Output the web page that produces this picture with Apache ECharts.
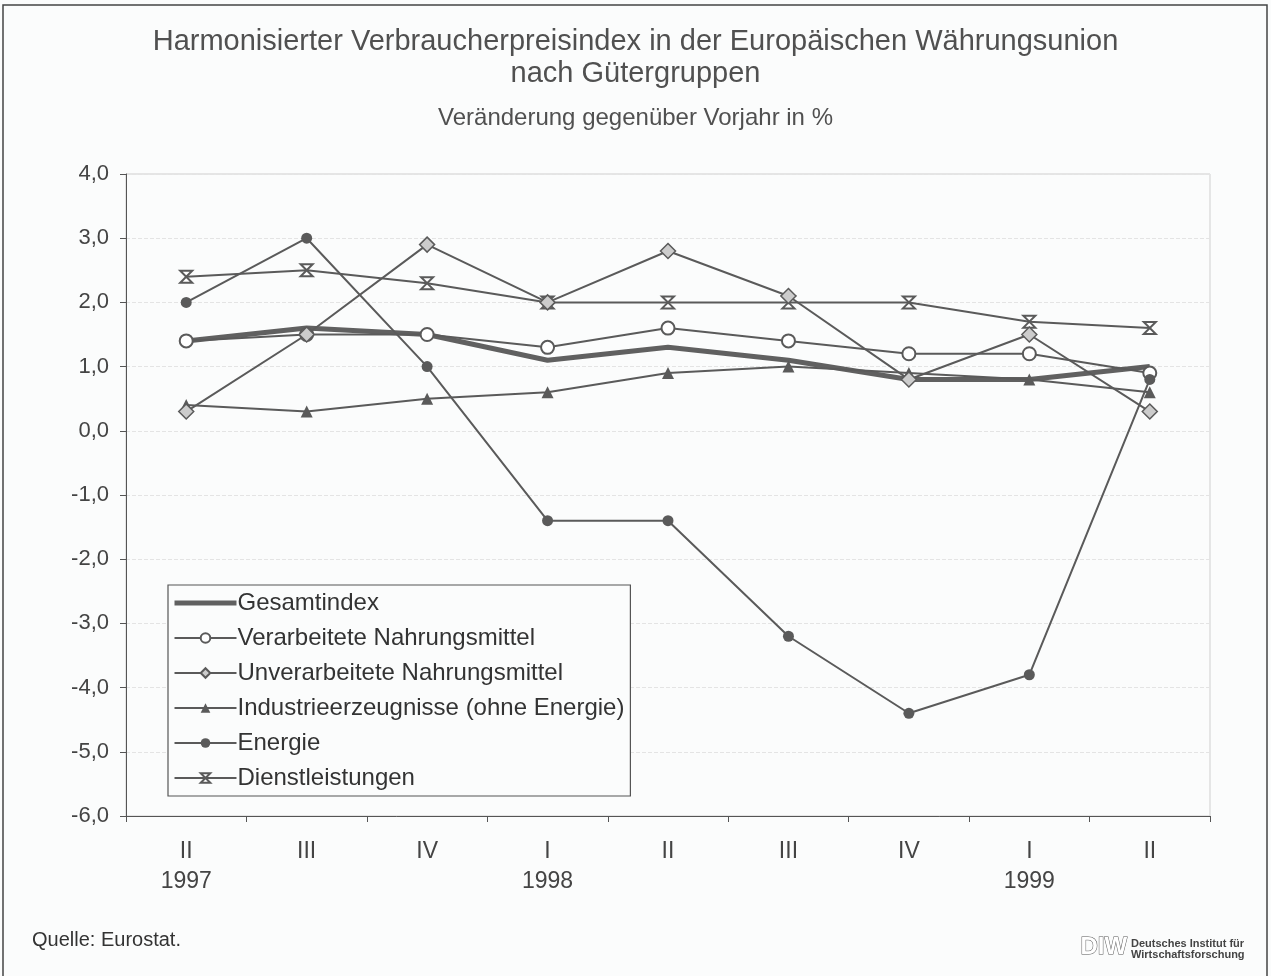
<!DOCTYPE html>
<html><head><meta charset="utf-8">
<script src="https://cdn.jsdelivr.net/npm/echarts@6/dist/echarts.min.js"></script>
<style>html,body{margin:0;padding:0;background:#fbfcfc}#c{width:1271px;height:976px}</style>
</head><body><div id="c"></div>
<script>
const categories = ['II\n1997','III','IV','I\n1998','II','III','IV','I\n1999','II'];
const gesamtindex = [1.4,1.6,1.5,1.1,1.3,1.1,0.8,0.8,1.0];
const verarbeitete = [1.4,1.5,1.5,1.3,1.6,1.4,1.2,1.2,0.9];
const unverarbeitete = [0.3,1.5,2.9,2.0,2.8,2.1,0.8,1.5,0.3];
const industrie = [0.4,0.3,0.5,0.6,0.9,1.0,0.9,0.8,0.6];
const energie = [2.0,3.0,1.0,-1.4,-1.4,-3.2,-4.4,-3.8,0.8];
const dienst = [2.4,2.5,2.3,2.0,2.0,2.0,2.0,1.7,1.6];
const seriesNames = ['Gesamtindex','Verarbeitete Nahrungsmittel','Unverarbeitete Nahrungsmittel','Industrieerzeugnisse (ohne Energie)','Energie','Dienstleistungen'];

const FONT = 'Liberation Sans, Arial, sans-serif';
const LC = '#5a5a5a';
const crossSym = 'path://M0,0L10,0L0,10L10,10Z';

const chart = echarts.init(document.getElementById('c'));
function mk(name, data, opts) {
  return Object.assign({
    name, type:'line', data, animation:false,
    lineStyle:{color:LC, width:2},
    itemStyle:{color:LC, borderColor:LC, borderWidth:1.5},
    symbolSize:10
  }, opts);
}
const legendData = seriesNames.map((n,i)=> i===0
  ? {name:n, lineStyle:{width:5, color:'#606060'}, itemStyle:{color:'transparent', borderColor:'transparent', opacity:0}}
  : {name:n});
chart.setOption({
  backgroundColor:'#fbfcfc',
  textStyle:{fontFamily:FONT},
  title:[
    {text:'Harmonisierter Verbraucherpreisindex in der Europäischen Währungsunion\nnach Gütergruppen', left:'center', top:21,
     textStyle:{fontFamily:FONT, fontSize:29, fontWeight:'normal', color:'#505050', lineHeight:32, align:'center'}},
    {text:'Veränderung gegenüber Vorjahr in %', left:'center', top:101,
     textStyle:{fontFamily:FONT, fontSize:24, fontWeight:'normal', color:'#505050'}},
    {text:'Quelle: Eurostat.', left:27, top:925, textStyle:{fontFamily:FONT, fontSize:20, fontWeight:'normal', color:'#333'}}
  ],
  grid:{left:126, right:61, top:174, bottom:160, show:true, borderColor:'#cfcfcf', borderWidth:1, backgroundColor:'transparent'},
  legend:{
    orient:'vertical', left:168, top:585, padding:[6,6,6,4],
    itemWidth:62, itemHeight:12, itemGap:11,
    borderColor:'#555', borderWidth:1.2, backgroundColor:'#fbfcfc',
    textStyle:{fontFamily:FONT, fontSize:24, color:'#333', padding:[0,0,0,-4]},
    data:legendData
  },
  xAxis:{
    type:'category', data:categories, boundaryGap:true,
    axisLine:{onZero:false, lineStyle:{color:'#555', width:1}},
    axisTick:{show:true, inside:false, length:6, lineStyle:{color:'#555'}},
    axisLabel:{fontFamily:FONT, fontSize:23, color:'#444', lineHeight:30, margin:21},
    splitLine:{show:false}
  },
  yAxis:{
    type:'value', min:-6, max:4, interval:1,
    axisLine:{show:true, lineStyle:{color:'#555', width:1}},
    axisTick:{show:true, length:6, lineStyle:{color:'#555'}},
    axisLabel:{fontFamily:FONT, fontSize:22, color:'#444', margin:17,
      formatter:v=>v.toFixed(1).replace('.',',')},
    splitLine:{show:true, lineStyle:{color:'#e4e4e4', type:'dashed', width:1}}
  },
  series:[
    mk(seriesNames[0], gesamtindex, {lineStyle:{color:'#606060', width:5}, symbol:'none', itemStyle:{color:'#606060'}, z:3}),
    mk(seriesNames[1], verarbeitete, {symbol:'circle', symbolSize:13, itemStyle:{color:'#ffffff', borderColor:LC, borderWidth:2}, z:4}),
    mk(seriesNames[2], unverarbeitete, {symbol:'diamond', symbolSize:[15,15], itemStyle:{color:'#cccccc', borderColor:LC, borderWidth:1.5}, z:5}),
    mk(seriesNames[3], industrie, {symbol:'triangle', symbolSize:12, itemStyle:{color:LC}, z:4}),
    mk(seriesNames[4], energie, {symbol:'circle', symbolSize:11, itemStyle:{color:LC}, z:4}),
    mk(seriesNames[5], dienst, {symbol:crossSym, symbolSize:12, itemStyle:{color:'#ffffff', borderColor:LC, borderWidth:2}, z:4})
  ],
  graphic:[
    {type:'rect', shape:{x:3, y:5, width:1264, height:1000}, style:{fill:'none', stroke:'#444', lineWidth:1.5}, silent:true},
    {type:'text', left:1080, top:935, style:{text:'DIW', font:'bold 24px '+FONT, fill:'#fff', stroke:'#555', lineWidth:1}},
    {type:'text', left:1131, top:938, style:{text:'Deutsches Institut für\nWirtschaftsforschung', font:'bold 11px '+FONT, fill:'#444', lineHeight:11}}
  ]
});
</script></body></html>
